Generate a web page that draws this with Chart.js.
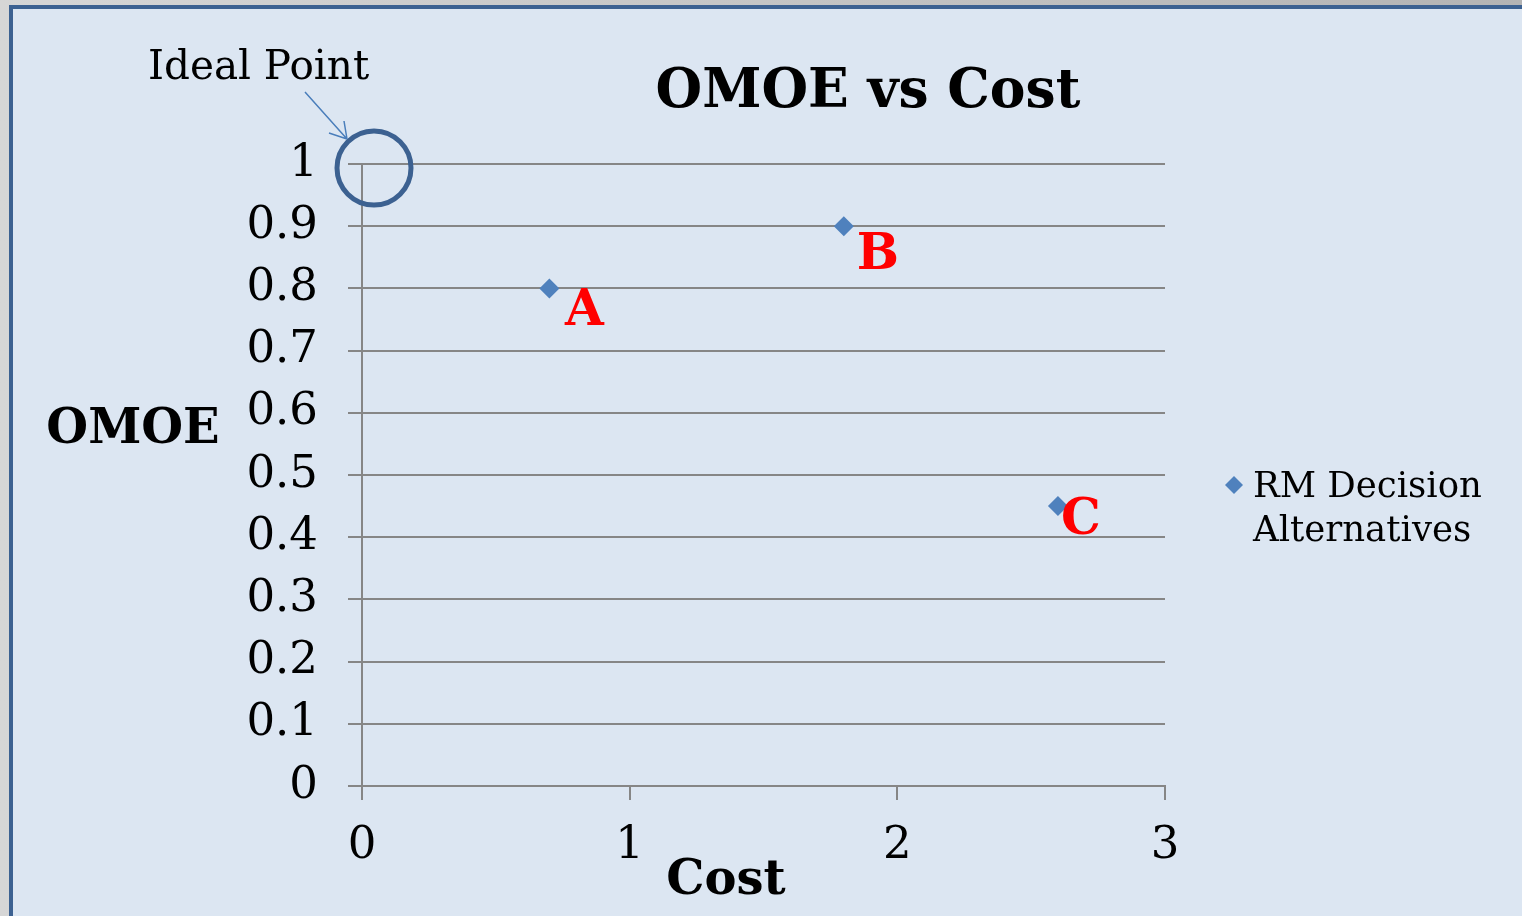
<!DOCTYPE html>
<html>
<head>
<meta charset="utf-8">
<script src="https://cdn.jsdelivr.net/npm/chart.js@4/dist/chart.umd.min.js"></script>
<style>
  html, body { margin: 0; padding: 0; width: 1522px; height: 916px; overflow: hidden; }
  body { background: linear-gradient(to right, #d6d6d6, #b4b4b4); position: relative; }
  #frame {
    position: absolute; left: 9px; top: 5px; right: -10px; bottom: -10px;
    background: #dce6f2;
    border-top: 4px solid #3c6191;
    border-left: 4px solid #3c6191;
  }
  #chart { position: absolute; left: 0; top: 0; }
</style>
</head>
<body>
<div id="frame"></div>
<canvas id="chart" width="1522" height="916"></canvas>
<script>
// Dữ liệu: chi phí và OMOE của từng phương án
const altNames = ["A", "B", "C"];
const costValues = [0.7, 1.8, 2.6];
const omoeValues = [0.8, 0.9, 0.45];
const xTicks = [0, 1, 2, 3];
const yTicks = [0, 0.1, 0.2, 0.3, 0.4, 0.5, 0.6, 0.7, 0.8, 0.9, 1];
const idealPoint = { x: 0, y: 1 };

const serif = "'DejaVu Serif', serif";

// Vẽ tiêu đề, nhãn điểm, chú giải và vòng tròn "Ideal Point"
const overlay = {
  id: "overlay",
  afterDraw(chart) {
    const c = chart.ctx;
    const xs = chart.scales.x, ys = chart.scales.y;
    c.save();
    c.fillStyle = "#000";
    c.textBaseline = "alphabetic";

    // tiêu đề
    c.font = "bold 53.5px " + serif;
    c.textAlign = "center";
    c.fillText("OMOE vs Cost", 868, 107);

    // tiêu đề trục
    c.font = "bold 48px " + serif;
    c.fillText("OMOE", 133, 443);
    c.fillText("Cost", 726, 894);

    // nhãn A, B, C
    const offs = [[35, 24], [34, 30], [23, 15]];
    const meta = chart.getDatasetMeta(0);
    c.fillStyle = "#ff0000";
    c.font = "bold 50px " + serif;
    c.textBaseline = "middle";
    meta.data.forEach((pt, i) => {
      c.fillText(altNames[i], pt.x + offs[i][0], pt.y + offs[i][1]);
    });

    // chú giải
    c.fillStyle = "#4f81bd";
    c.beginPath();
    c.moveTo(1234, 476); c.lineTo(1243, 485); c.lineTo(1234, 494); c.lineTo(1225, 485);
    c.closePath(); c.fill();
    c.fillStyle = "#000";
    c.textAlign = "left";
    c.textBaseline = "alphabetic";
    c.font = "35.5px " + serif;
    c.fillText("RM Decision", 1253, 497);
    c.fillText("Alternatives", 1253, 541);

    // Ideal Point
    const cx = xs.getPixelForValue(idealPoint.x) + 12;
    const cy = ys.getPixelForValue(idealPoint.y) + 4;
    c.strokeStyle = "#3c6191";
    c.lineWidth = 5;
    c.beginPath();
    c.arc(cx, cy, 37, 0, Math.PI * 2);
    c.stroke();

    c.strokeStyle = "#4a7ebb";
    c.lineWidth = 1.5;
    c.beginPath();
    c.moveTo(305, 92); c.lineTo(347, 139);
    c.moveTo(347, 139); c.lineTo(329, 133);
    c.moveTo(347, 139); c.lineTo(344, 121);
    c.stroke();

    c.font = "40.5px " + serif;
    c.fillText("Ideal Point", 148, 79);
    c.restore();
  }
};

const ctx = document.getElementById("chart").getContext("2d");
const chart = new Chart(ctx, {
  type: "scatter",
  data: {
    datasets: [{
      label: "RM Decision Alternatives",
      data: costValues.map((v, i) => ({ x: v, y: omoeValues[i] })),
      backgroundColor: "#4f81bd",
      borderColor: "#4f81bd",
      borderWidth: 0,
      pointStyle: "rectRot",
      pointRadius: 10,
      pointHoverRadius: 10,
    }],
  },
  options: {
    responsive: false,
    animation: false,
    layout: { padding: { left: 230, right: 357, top: 164, bottom: 0 } },
    plugins: {
      legend: { display: false },
      tooltip: { enabled: false },
    },
    scales: {
      x: {
        type: "linear",
        min: 0, max: 3,
        afterBuildTicks: (s) => { s.ticks = xTicks.map(v => ({ value: v })); },
        afterFit: (s) => { s.height = 130; },
        grid: { drawOnChartArea: false, color: "#868686", lineWidth: 2, tickLength: 14 },
        border: { color: "#868686", width: 2 },
        ticks: { color: "#000", font: { family: serif, size: 45 }, padding: 19, maxRotation: 0 },
      },
      y: {
        min: 0, max: 1,
        afterBuildTicks: (s) => { s.ticks = yTicks.map(v => ({ value: v })); },
        afterFit: (s) => { s.width = 132; },
        grid: { color: "#868686", lineWidth: 2, tickLength: 14 },
        border: { color: "#868686", width: 2 },
        ticks: { color: "#000", font: { family: serif, size: 45 }, padding: 30, callback: (v) => String(v) },
      },
    },
  },
  plugins: [overlay],
});
</script>
</body>
</html>
